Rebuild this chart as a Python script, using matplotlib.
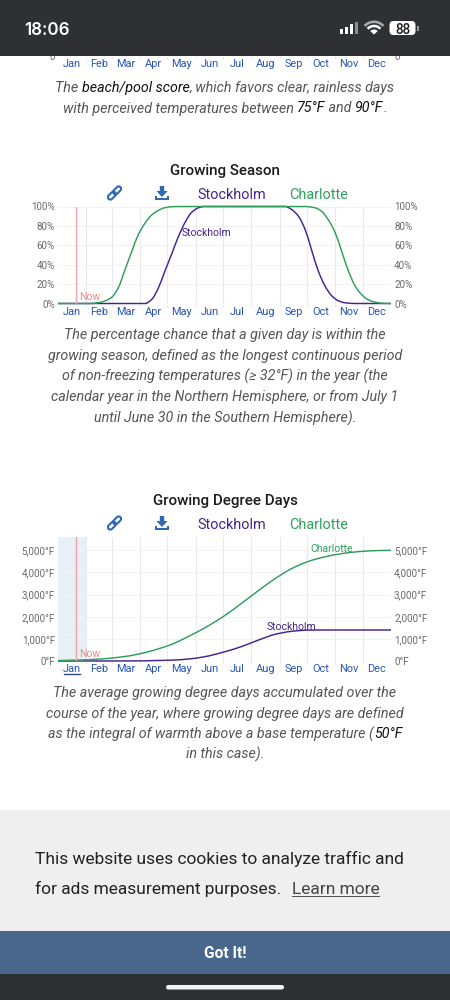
import matplotlib
matplotlib.use("Agg")
import matplotlib.pyplot as plt
from matplotlib.patches import Rectangle, FancyBboxPatch, Polygon, Wedge, PathPatch
from matplotlib.path import Path
from matplotlib.transforms import Affine2D

plt.rcParams["font.family"] = ["Roboto", "DejaVu Sans"]

# ---- data ----
MONTHS = ["Jan", "Feb", "Mar", "Apr", "May", "Jun", "Jul", "Aug", "Sep", "Oct", "Nov", "Dec"]
MONTH_STARTS = [31, 59, 90, 120, 151, 181, 212, 243, 273, 304, 334]
MONTH_MIDS = [15.5, 45, 74.5, 105, 135.5, 166, 196.5, 227.5, 258, 288.5, 319, 349.5]
NOW_DAY = 20

SEASON_TICKS = [0, 20, 40, 60, 80, 100]
SEASON_LABELS = ["0%", "20%", "40%", "60%", "80%", "100%"]

SEASON_DAYS_CLT = [0, 35, 44, 51.5, 59, 66, 73.5, 81, 88, 95.5, 103, 110, 117, 125, 132,
                   271, 282, 289, 296.5, 304, 311, 318.5, 326, 333, 340, 347.5, 355, 361, 365]
SEASON_CLT = [0, 0, 0.8, 2.7, 6.5, 16, 35, 54, 71, 83, 91.5, 96, 98.7, 99.8, 100,
              100, 98.6, 95, 86, 72.5, 53.6, 33, 17.5, 9, 3.8, 1.4, 0.3, 0, 0]

SEASON_DAYS_STO = [0, 95.5, 103, 110, 117, 125, 132, 139.5, 146.5, 154, 160,
                   249, 256, 263.5, 271, 278, 285.5, 293, 300, 307.5, 315, 326, 365]
SEASON_STO = [0, 0, 4.5, 16, 33, 52, 69, 84, 94, 98.7, 100,
              100, 97, 90, 76, 55, 33, 17.5, 8, 2.7, 0.7, 0, 0]

GDD_TICKS = [0, 1000, 2000, 3000, 4000, 5000]
GDD_LABELS = ["0°F", "1,000°F", "2,000°F", "3,000°F", "4,000°F", "5,000°F"]

GDD_DAYS_CLT = [0, 20, 33, 51, 70, 88, 106, 125, 143, 161, 183, 201, 220, 238, 256, 274.5, 293, 311, 330, 348, 365]
GDD_CLT = [20, 40, 60, 105, 185, 310, 500, 760, 1110, 1500, 2060, 2600, 3190, 3720, 4170, 4500, 4710, 4850, 4940, 4985, 5000]

GDD_DAYS_STO = [0, 88, 106, 125, 143, 161, 183, 201, 220, 238, 256, 274.5, 293, 365]
GDD_STO = [0, 5, 20, 40, 90, 195, 420, 650, 950, 1205, 1340, 1395, 1400, 1400]

# ---- colours ----
PURPLE = "#45238f"
GREEN = "#2f9e5c"
BLUE = "#2a55b8"
ICON = "#2f69b3"
GRAY = "#6a6a6a"
CAPTION = "#555555"
NOW = "#f7a3a3"

W, H = 450, 1000
fig = plt.figure(figsize=(W / 100, H / 100), dpi=100, facecolor="white")


def pt(px):
    return px * 0.72


def chart_axes(left, right, top, bottom, ymax, ticks, labels):
    ax = fig.add_axes([left / W, 1 - bottom / H, (right - left) / W, (bottom - top) / H], zorder=1)
    ax.patch.set_alpha(0)
    ax.set_xlim(0, 365)
    ax.set_ylim(0, ymax)
    for s in ax.spines.values():
        s.set_visible(False)
    ax.set_xticks(MONTH_STARTS)
    ax.set_xticklabels([])
    ax.set_xticks(MONTH_MIDS, MONTHS, minor=True)
    ax.tick_params(axis="x", which="major", length=2.5, width=0.8, color="#e8e8e8")
    ax.tick_params(axis="x", which="minor", length=0, pad=2.4, labelsize=pt(11), labelcolor=BLUE)
    ax.set_yticks(ticks, labels)
    ax.tick_params(axis="y", length=0, labelleft=True, labelright=True, pad=2.2,
                   labelsize=pt(9.9), labelcolor=GRAY)
    ax.grid(axis="x", color="#e9e9e9", lw=0.8)
    ax.grid(axis="y", color="#f2f2f2", lw=0.8)
    ax.set_axisbelow(True)
    return ax


def smooth_curve(ax, xs, ys, color):
    """Stroke the series as cubic segments through its values, without overshoot."""
    slopes = [(ys[i + 1] - ys[i]) / (xs[i + 1] - xs[i]) for i in range(len(xs) - 1)]
    tangents = [slopes[0]]
    for a, b in zip(slopes[:-1], slopes[1:]):
        tangents.append(0.0 if a * b <= 0 else 2 * a * b / (a + b))
    tangents.append(slopes[-1])
    verts = [(xs[0], ys[0])]
    codes = [Path.MOVETO]
    for i in range(len(xs) - 1):
        h = (xs[i + 1] - xs[i]) / 3
        verts += [(xs[i] + h, ys[i] + tangents[i] * h),
                  (xs[i + 1] - h, ys[i + 1] - tangents[i + 1] * h),
                  (xs[i + 1], ys[i + 1])]
        codes += [Path.CURVE4] * 3
    ax.add_patch(PathPatch(Path(verts, codes), fc="none", ec=color, lw=1.05, clip_on=False))


# chart cut off by the status bar: only its month labels and baseline labels show
ax0 = chart_axes(58, 391, 20, 56, 100, [0], ["0"])

# Growing Season
ax1 = chart_axes(58, 391, 206.5, 303.5, 100, SEASON_TICKS, SEASON_LABELS)
ax1.axvline(NOW_DAY, color=NOW, lw=1.0)
smooth_curve(ax1, SEASON_DAYS_STO, SEASON_STO, PURPLE)
smooth_curve(ax1, SEASON_DAYS_CLT, SEASON_CLT, GREEN)

# Growing Degree Days
ax2 = chart_axes(58, 391, 536.7, 661, 5614, GDD_TICKS, GDD_LABELS)
ax2.axvspan(0, 31, color="#e9eff7", lw=0, zorder=0)
ax2.axvline(NOW_DAY, color="#eda3a6", lw=1.0)
smooth_curve(ax2, GDD_DAYS_STO, GDD_STO, PURPLE)
smooth_curve(ax2, GDD_DAYS_CLT, GDD_CLT, GREEN)

# page layer in pixel coordinates
ui = fig.add_axes([0, 0, 1, 1], zorder=2)
ui.set_xlim(0, W)
ui.set_ylim(H, 0)
ui.axis("off")
ui.patch.set_alpha(0)


def label(x, y, s, size, color, ha="center", weight="normal", style="normal", z=5):
    return ui.text(x, y, s, fontsize=pt(size), color=color, ha=ha, va="center_baseline",
                   fontweight=weight, fontstyle=style, zorder=z)


def caption_line(y, parts, size=14.2):
    """One centred italic line whose pieces may differ in colour."""
    renderer = fig.canvas.get_renderer()

    def width(s):
        t = ui.text(0, 0, s + "|", fontsize=pt(size), fontstyle="italic")
        b = t.get_window_extent(renderer).width
        t.remove()
        return b

    bar = width("")
    full = "".join(p[0] for p in parts)
    x = 225 - (width(full) - bar) / 2
    prefix = ""
    for s, c in parts:
        label(x + width(prefix) - bar, y, s, size, c, ha="left", style="italic")
        prefix += s


def link_icon(cx, cy):
    base = Affine2D().rotate_deg(-45).translate(cx, cy) + ui.transData
    for dx in (-3.7, 3.7):
        p = FancyBboxPatch((dx - 4.6, -2.4), 9.2, 4.8, boxstyle="round,pad=0,rounding_size=2.4",
                           fc="none", ec=ICON, lw=1.5, transform=base, zorder=5)
        ui.add_patch(p)


def download_icon(cx, cy):
    ui.add_patch(Polygon([(cx - 2.2, cy - 7), (cx + 2.2, cy - 7), (cx + 2.2, cy - 2), (cx + 5.6, cy - 2),
                          (cx, cy + 4), (cx - 5.6, cy - 2), (cx - 2.2, cy - 2)],
                         closed=True, fc=ICON, ec="none", zorder=5))
    ui.add_patch(Polygon([(cx - 6.8, cy + 2.5), (cx - 5.2, cy + 2.5), (cx - 5.2, cy + 5.2), (cx + 5.2, cy + 5.2),
                          (cx + 5.2, cy + 2.5), (cx + 6.8, cy + 2.5), (cx + 6.8, cy + 7), (cx - 6.8, cy + 7)],
                         closed=True, fc=ICON, ec="none", zorder=5))


def chart_header(title, title_y, row_y):
    label(225, title_y, title, 15.1, "#1c1c1c", weight="medium")
    link_icon(114.5, row_y)
    download_icon(162, row_y)
    label(197, row_y + 0.5, "Stockholm", 14.4, PURPLE, ha="left")
    label(289, row_y + 0.5, "Charlotte", 14.4, GREEN, ha="left")


# first caption, belonging to the chart cut off above
caption_line(86.5, [("The ", CAPTION), ("beach/pool score", "#111111"), (", which favors clear, rainless days", CAPTION)])
caption_line(107, [("with perceived temperatures between ", CAPTION), ("75°F", "#111111"), (" and ", CAPTION),
                   ("90°F", "#111111"), (".", CAPTION)])

chart_header("Growing Season", 170, 193)
label(79, 295.5, "Now", 10.4, "#f08a8a", ha="left")
label(182, 231.5, "Stockholm", 10.4, PURPLE, ha="left")
for y, s in zip([333.5, 354.5, 375, 396, 416.5],
                ["The percentage chance that a given day is within the",
                 "growing season, defined as the longest continuous period",
                 "of non-freezing temperatures (≥ 32°F) in the year (the",
                 "calendar year in the Northern Hemisphere, or from July 1",
                 "until June 30 in the Southern Hemisphere)."]):
    caption_line(y, [(s, CAPTION)])

chart_header("Growing Degree Days", 500, 523)
label(79, 653, "Now", 10.4, "#f08a8a", ha="left")
label(310, 548.5, "Charlotte", 10.4, GREEN, ha="left")
label(267, 625.5, "Stockholm", 10.4, PURPLE, ha="left")
ui.plot([64, 80], [674, 674], color="#2c4a80", lw=1.0, zorder=5)
for y, parts in zip([692, 712.5, 733, 753],
                    [[("The average growing degree days accumulated over the", CAPTION)],
                     [("course of the year, where growing degree days are defined", CAPTION)],
                     [("as the integral of warmth above a base temperature (", CAPTION), ("50°F", "#111111")],
                     [("in this case).", CAPTION)]]):
    caption_line(y, parts)

# next section's heading, mostly hidden by the cookie banner
label(225, 815.5, "Average Daily Incident Shortwave Solar Energy", 15.1, "#1c1c1c", weight="medium")

# status bar
ui.add_patch(Rectangle((0, 0), W, 55.5, fc="#2f3033", ec="none", zorder=10))
ui.text(24, 28.3, "18:06", fontsize=pt(17), color="white", fontweight="semibold", family="Inter",
        ha="left", va="center_baseline", zorder=11)
for x, top, c in zip([339.5, 345, 350, 355.2], [29, 26.7, 24, 22], ["white", "white", "white", "#8d8d8f"]):
    ui.add_patch(Rectangle((x, top), 3, 34.3 - top, fc=c, ec="none", zorder=11))
ui.add_patch(Wedge((374, 34.5), 14, 222, 318, width=2.6, fc="#a8a8aa", ec="none", zorder=11))
ui.add_patch(Wedge((374, 34.5), 9.8, 222, 318, width=2.6, fc="white", ec="none", zorder=11))
ui.add_patch(Wedge((374, 34.5), 5, 222, 318, fc="white", ec="none", zorder=11))
ui.add_patch(FancyBboxPatch((389.5, 21), 26, 14, boxstyle="round,pad=0,rounding_size=4", fc="white", ec="none", zorder=11))
ui.add_patch(Rectangle((417, 25.5), 1.5, 5.5, fc="#9a9a9a", ec="none", zorder=11))
label(402.5, 28.3, "88", 13.5, "#1c1c1e", weight="medium", z=12)

# cookie banner
ui.add_patch(Rectangle((0, 810), W, 121, fc="#efefef", ec="none", zorder=10))
ui.text(35, 857.5, "This website uses cookies to analyze traffic and", fontsize=pt(17.4), color="#222222",
        ha="left", va="center_baseline", zorder=11)
ui.text(35, 887.5, "for ads measurement purposes.", fontsize=pt(17.4), color="#222222",
        ha="left", va="center_baseline", zorder=11)
ui.text(291.5, 887.5, "Learn more", fontsize=pt(17.4), color="#444444",
        ha="left", va="center_baseline", zorder=11)
ui.add_patch(Rectangle((291.5, 895.5), 88.5, 1, fc="#555555", ec="none", zorder=11))
ui.add_patch(Rectangle((0, 931), W, 43, fc="#49668c", ec="none", zorder=10))
ui.text(225, 952, "Got It!", fontsize=pt(15.5), color="white", fontweight="bold",
        ha="center", va="center_baseline", zorder=11)

# home indicator strip
ui.add_patch(Rectangle((0, 974), W, 26, fc="#2f3033", ec="none", zorder=10))
ui.add_patch(FancyBboxPatch((166, 985), 118, 4.5, boxstyle="round,pad=0,rounding_size=2.2",
                            fc="#f2f2f2", ec="none", zorder=11))

fig.savefig("out.png", dpi=100)
